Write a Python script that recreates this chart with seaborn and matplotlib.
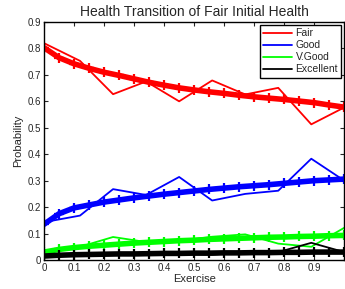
import matplotlib
matplotlib.use("Agg")
import matplotlib.pyplot as plt
import seaborn as sns
import pandas as pd

# Observed (thin) transition probabilities
exercise_obs = [0.0, 0.12, 0.23, 0.34, 0.45, 0.56, 0.67, 0.78, 0.89, 1.0]
fair_obs = [0.82, 0.753, 0.627, 0.675, 0.60, 0.679, 0.626, 0.651, 0.513, 0.577]
good_obs = [0.143, 0.168, 0.268, 0.246, 0.314, 0.225, 0.25, 0.262, 0.383, 0.30]
vgood_obs = [0.035, 0.05, 0.087, 0.068, 0.072, 0.088, 0.097, 0.062, 0.05, 0.122]
exc_obs = [0.015, 0.025, 0.02, 0.02, 0.025, 0.02, 0.03, 0.03, 0.065, 0.03]

# Fitted (thick, marked) curves
exercise_fit = [0.0, 0.05, 0.1, 0.15, 0.2, 0.25, 0.3, 0.35, 0.4, 0.45, 0.5,
                0.55, 0.6, 0.65, 0.7, 0.75, 0.8, 0.85, 0.9, 0.95, 1.0]
fair_fit = [0.803, 0.765, 0.742, 0.725, 0.71, 0.698, 0.685, 0.672, 0.661, 0.651, 0.643,
            0.636, 0.63, 0.623, 0.617, 0.612, 0.607, 0.601, 0.595, 0.586, 0.578]
good_fit = [0.135, 0.175, 0.197, 0.208, 0.219, 0.227, 0.235, 0.242, 0.249, 0.255, 0.261,
            0.267, 0.272, 0.277, 0.281, 0.285, 0.29, 0.295, 0.30, 0.303, 0.306]
vgood_fit = [0.03, 0.04, 0.047, 0.052, 0.056, 0.06, 0.064, 0.067, 0.07, 0.073, 0.075,
             0.078, 0.08, 0.082, 0.084, 0.086, 0.087, 0.089, 0.09, 0.092, 0.093]
exc_fit = [0.015, 0.018, 0.02, 0.021, 0.022, 0.023, 0.023, 0.024, 0.025, 0.025, 0.026,
           0.026, 0.027, 0.027, 0.028, 0.028, 0.029, 0.029, 0.03, 0.03, 0.03]

names = ["Fair", "Good", "V.Good", "Excellent"]
colors = {"Fair": "#ff0000", "Good": "#0000ff", "V.Good": "#00ff00", "Excellent": "#000000"}

obs = pd.DataFrame({"Exercise": exercise_obs * 4,
                    "Probability": fair_obs + good_obs + vgood_obs + exc_obs,
                    "Health": sum([[n] * len(exercise_obs) for n in names], [])})
fit = pd.DataFrame({"Exercise": exercise_fit * 4,
                    "Probability": fair_fit + good_fit + vgood_fit + exc_fit,
                    "Health": sum([[n] * len(exercise_fit) for n in names], [])})

sns.set_style("ticks")
plt.rcParams["font.family"] = ["Liberation Sans", "DejaVu Sans"]

fig = plt.figure(figsize=(3.45, 2.89), dpi=100)
ax = fig.add_axes([0.1275, 0.1003, 0.8705, 0.8236])

sns.lineplot(data=obs, x="Exercise", y="Probability", hue="Health", palette=colors,
             hue_order=names, linewidth=1.3, ax=ax, legend=True)
for n in names:
    sub = fit[fit["Health"] == n]
    sns.lineplot(data=sub, x="Exercise", y="Probability", color=colors[n], linewidth=4,
                 marker="+", markersize=7, markeredgewidth=1.6,
                 markeredgecolor=colors[n], ax=ax, legend=False)

ax.set_xlim(0, 1)
ax.set_ylim(0, 0.9)
ax.set_xticks([0, 0.1, 0.2, 0.3, 0.4, 0.5, 0.6, 0.7, 0.8, 0.9])
ax.set_xticklabels(["0", "0.1", "0.2", "0.3", "0.4", "0.5", "0.6", "0.7", "0.8", "0.9"])
ax.set_yticks([0, 0.1, 0.2, 0.3, 0.4, 0.5, 0.6, 0.7, 0.8, 0.9])
ax.set_yticklabels(["0", "0.1", "0.2", "0.3", "0.4", "0.5", "0.6", "0.7", "0.8", "0.9"])
ax.tick_params(direction="in", length=3, width=0.8, labelsize=7, top=True, right=True, pad=2)
for s in ax.spines.values():
    s.set_visible(True)
    s.set_linewidth(1.0)
    s.set_color("black")

ax.set_xlabel("Exercise", fontsize=8, labelpad=1)
ax.set_ylabel("Probability", fontsize=8, labelpad=3)
ax.set_title("Health Transition of Fair Initial Health", fontsize=10, pad=4)

leg = ax.legend(loc="upper right", fontsize=7.5, frameon=True, fancybox=False,
                edgecolor="black", framealpha=1, handlelength=2.8, handletextpad=0.3,
                borderpad=0.3, labelspacing=0.2, borderaxespad=0.3, title=None)
leg.get_frame().set_linewidth(1.0)

fig.savefig("out.png", dpi=100)
